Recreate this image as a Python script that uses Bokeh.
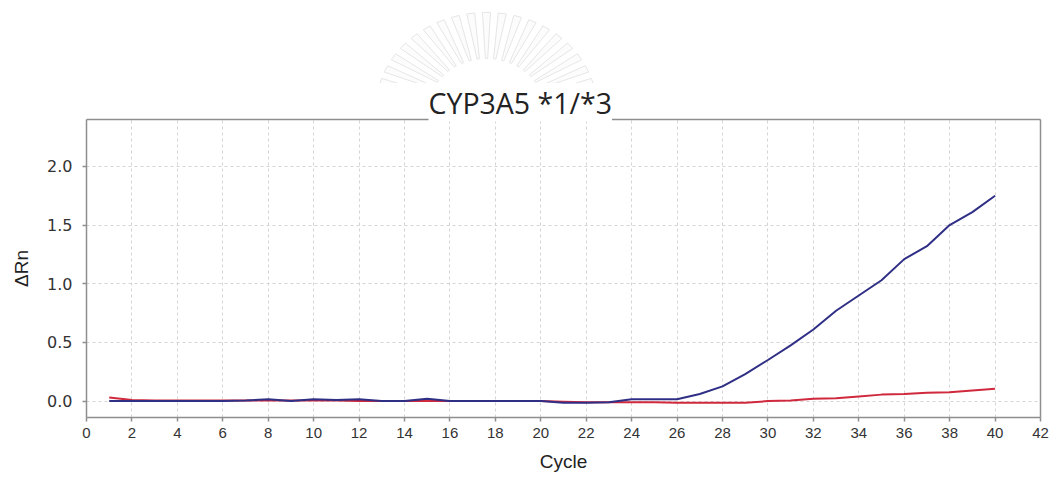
import math
from bokeh.plotting import figure
from bokeh.layouts import column
from bokeh.models import LinearAxis, FixedTicker, Range1d, CustomJSTickFormatter, Title
from bokeh.embed import file_html
from bokeh.resources import INLINE

# Amplification data (delta Rn per cycle) for the two probes
cycles = list(range(1, 41))
allele_1 = [0.0, 0.0, 0.0, 0.0, 0.0, 0.0, 0.005, 0.015, 0.0, 0.015,
            0.01, 0.015, 0.0, 0.0, 0.02, 0.0, 0.0, 0.0, 0.0, 0.0,
            -0.015, -0.015, -0.01, 0.015, 0.015, 0.015, 0.06, 0.125, 0.23, 0.35,
            0.475, 0.61, 0.77, 0.90, 1.03, 1.21, 1.32, 1.50, 1.61, 1.75]
allele_3 = [0.03, 0.01, 0.005, 0.005, 0.005, 0.005, 0.005, 0.005, 0.005, 0.005,
            0.005, 0.0, 0.0, 0.0, 0.0, 0.0, 0.0, 0.0, 0.0, 0.0,
            -0.005, -0.01, -0.01, -0.01, -0.01, -0.015, -0.015, -0.015, -0.015, 0.0,
            0.005, 0.02, 0.025, 0.04, 0.055, 0.06, 0.07, 0.075, 0.09, 0.105]

x_ticks = list(range(0, 43, 2))
y_ticks = [0.0, 0.5, 1.0, 1.5, 2.0]
title_text = "CYP3A5 *1/*3"

AXIS_GREY = "#8e8e8e"
LABEL_GREY = "#333333"
LEFT, RIGHT = 86, 12       # borders shared by both stacked figures
HEADER_H = 83

# ---- faint sunburst emblem above the chart (header coords = page pixels) ----
header = figure(width=1052, height=HEADER_H,
                x_range=Range1d(LEFT, 1052 - RIGHT), y_range=Range1d(HEADER_H, 0),
                output_backend="svg", toolbar_location=None,
                min_border_left=LEFT, min_border_right=RIGHT,
                min_border_top=0, min_border_bottom=0)
header.axis.visible = False
header.grid.visible = False
header.outline_line_color = None

cx, cy = 486, 108
r_in, r_out = 50, 96
n_rays = 21
xs, ys = [], []
for i in range(n_rays):
    th = math.radians(8 + 164 * i / (n_rays - 1))
    ux, uy = math.cos(th), -math.sin(th)
    px, py = -uy, ux
    sx = 1.15
    pts = [(r_in, -1.0), (r_in, 1.0), (r_out, 3.5), (r_out, -3.5)]
    xs.append([cx + sx * (r * ux + w * px) for r, w in pts])
    ys.append([cy + r * uy + w * py for r, w in pts])
header.patches(xs, ys, fill_color="#fcfcfc", line_color="#e6e6e6", line_width=1)

# ---- amplification plot ----
p = figure(width=1052, height=479 - HEADER_H,
           x_range=Range1d(0, 42), y_range=Range1d(-0.14, 2.4),
           output_backend="svg", toolbar_location=None,
           min_border_left=LEFT, min_border_right=RIGHT,
           min_border_top=119 - HEADER_H, min_border_bottom=62,
           x_axis_label="Cycle", y_axis_label="\u0394Rn")
p.outline_line_color = None
p.background_fill_color = "white"
p.border_fill_color = "white"

for ax, ticks in ((p.xaxis[0], x_ticks), (p.yaxis[0], y_ticks)):
    ax.ticker = FixedTicker(ticks=ticks)
    ax.axis_line_color = AXIS_GREY
    ax.axis_line_width = 1.5
    ax.major_tick_line_color = AXIS_GREY
    ax.major_tick_line_width = 1.5
    ax.major_tick_out = 4
    ax.major_tick_in = 0
    ax.minor_tick_line_color = None
    ax.major_label_text_color = LABEL_GREY
    ax.axis_label_text_color = "#222222"
    ax.axis_label_text_font = "Liberation Sans"
    ax.axis_label_text_font_style = "normal"
    ax.axis_label_text_font_size = "19px"

p.xaxis[0].major_label_text_font = "Liberation Sans"
p.xaxis[0].major_label_text_font_size = "15px"
p.xaxis[0].major_label_standoff = 6
p.xaxis[0].axis_label_standoff = 10
p.yaxis[0].major_label_text_font = "DejaVu Sans"
p.yaxis[0].major_label_text_font_size = "16px"
p.yaxis[0].major_label_standoff = 10
p.yaxis[0].axis_label_standoff = 12
p.yaxis[0].formatter = CustomJSTickFormatter(code="return tick.toFixed(1);")

# frame lines on the top and right
for side in ("above", "right"):
    frame_ax = LinearAxis(ticker=FixedTicker(ticks=[]),
                          axis_line_color=AXIS_GREY, axis_line_width=1.5,
                          major_tick_line_color=None, minor_tick_line_color=None,
                          major_label_text_font_size="0px",
                          major_label_standoff=0, axis_label_standoff=0)
    p.add_layout(frame_ax, side)

p.xgrid.ticker = FixedTicker(ticks=x_ticks)
p.ygrid.ticker = FixedTicker(ticks=y_ticks)
for g in (p.xgrid[0], p.ygrid[0]):
    g.grid_line_color = "#d4d4d4"
    g.grid_line_dash = "3 3"
    g.grid_line_width = 1

p.line(cycles, allele_3, line_color="#d0283c", line_width=2)
p.line(cycles, allele_1, line_color="#2f2f86", line_width=2)

# title resting on the top frame line, with a white box that breaks the line
p.title = Title(text=title_text, align="left", offset=342,
                text_font="Open Sans", text_font_size="28.5px",
                text_font_style="normal", text_color="#222222",
                vertical_align="bottom", standoff=-4,
                background_fill_color="white")

layout = column(header, p, spacing=0)
open("out.html", "w").write(file_html(layout, INLINE))
